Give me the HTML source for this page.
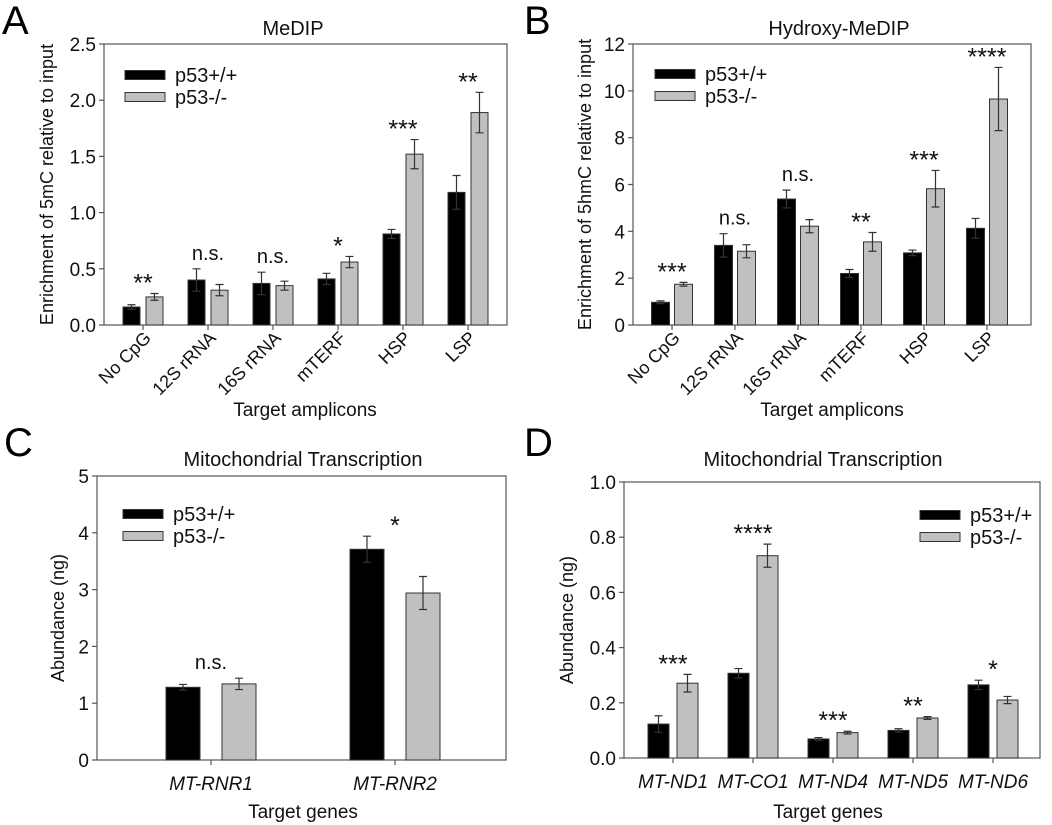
<!DOCTYPE html>
<html><head><meta charset="utf-8">
<style>
html,body{margin:0;padding:0;background:#fff;}
svg{display:block;font-family:"Liberation Sans",Arial,sans-serif;}
</style></head>
<body>
<svg id="fig" width="1052" height="825" viewBox="0 0 1052 825" xmlns="http://www.w3.org/2000/svg">
<rect width="1052" height="825" fill="#fff"/>
</svg>
<script>
// ---- Panel A data ----
const catsA = ["No CpG","12S rRNA","16S rRNA","mTERF","HSP","LSP"];
const wtA = [0.16,0.40,0.37,0.41,0.81,1.18];
const wtErrA = [0.02,0.10,0.10,0.05,0.04,0.15];
const koA = [0.25,0.31,0.35,0.56,1.52,1.89];
const koErrA = [0.03,0.05,0.04,0.05,0.13,0.18];
const sigA = ["**","n.s.","n.s.","*","***","**"];
const ticksA = ["0.0","0.5","1.0","1.5","2.0","2.5"];
// ---- Panel B data ----
const catsB = ["No CpG","12S rRNA","16S rRNA","mTERF","HSP","LSP"];
const wtB = [0.97,3.40,5.38,2.20,3.08,4.13];
const wtErrB = [0.06,0.50,0.38,0.17,0.12,0.42];
const koB = [1.74,3.15,4.22,3.55,5.82,9.65];
const koErrB = [0.08,0.28,0.28,0.40,0.78,1.35];
const sigB = ["***","n.s.","n.s.","**","***","****"];
const ticksB = ["0","2","4","6","8","10","12"];
// ---- Panel C data ----
const catsC = ["MT-RNR1","MT-RNR2"];
const wtC = [1.28,3.71];
const wtErrC = [0.05,0.23];
const koC = [1.34,2.94];
const koErrC = [0.10,0.29];
const sigC = ["n.s.","*"];
const ticksC = ["0","1","2","3","4","5"];
// ---- Panel D data ----
const catsD = ["MT-ND1","MT-CO1","MT-ND4","MT-ND5","MT-ND6"];
const wtD = [0.123,0.307,0.069,0.100,0.265];
const wtErrD = [0.030,0.017,0.005,0.006,0.017];
const koD = [0.271,0.733,0.092,0.145,0.210];
const koErrD = [0.032,0.042,0.005,0.005,0.013];
const sigD = ["***","****","***","**","*"];
const ticksD = ["0.0","0.2","0.4","0.6","0.8","1.0"];

const NS = "http://www.w3.org/2000/svg";
const svg = document.getElementById('fig');
function mk(tag, attrs, parent, text){
  const e = document.createElementNS(NS, tag);
  for (const k in attrs) e.setAttribute(k, attrs[k]);
  if (text !== undefined) e.textContent = text;
  (parent||svg).appendChild(e);
  return e;
}

function panel(o){
  const g = mk('g', {});
  
  
  const ymax = parseFloat(o.ticks[o.ticks.length-1]);
  const y = v => o.y1 - (v / ymax) * (o.y1 - o.y0);
  const cx = i => o.c0 + i * o.step;
  const L = mk('text', {x:o.lx, y:o.ly, 'font-size':40, fill:'#000'}, g, o.letter);
  
  
  const T = mk('text', {x:o.tx, y:o.ty, 'font-size':20, 'text-anchor':'middle', fill:'#111'}, g, o.title);
  
  
  const F = mk('rect', {x:o.x0, y:o.y0, width:o.x1-o.x0, height:o.y1-o.y0, fill:'none', stroke:'#555', 'stroke-width':1.2}, g);
  
  
  o.ticks.forEach(t => {
    const yy = y(parseFloat(t));
    const tl = mk('line', {x1:o.x0-5, x2:o.x0, y1:yy, y2:yy, stroke:'#555', 'stroke-width':1.2}, g);
    
    
    const tt = mk('text', {x:o.x0-8, y:yy+7, 'font-size':19, 'text-anchor':'end', fill:'#111'}, g, t);
    
    
  });
  const yt = mk('text', {x:0, y:0, 'font-size':18, 'text-anchor':'middle', fill:'#111',
    transform:`translate(${o.ytx},${(o.y0+o.y1)/2}) rotate(-90)`}, g, o.ytitle);
  
  
  const xt = mk('text', {x:o.xtx, y:o.xty, 'font-size':19, 'text-anchor':'middle', fill:'#111'}, g, o.xtitle);
  
  
  o.cats.forEach((c, i) => {
    const c0 = cx(i);
    const tk = mk('line', {x1:c0, x2:c0, y1:o.y1, y2:o.y1+5, stroke:'#555', 'stroke-width':1.2}, g);
    
    
    let lab;
    if (o.rot) {
      lab = mk('text', {x:0, y:0, 'font-size':18, 'text-anchor':'end', fill:'#111',
        transform:`translate(${c0+9},${o.y1+14}) rotate(-45)`}, g, c);
    } else {
      lab = mk('text', {x:c0, y:o.y1+30, 'font-size':19, 'text-anchor':'middle', 'font-style':'italic', fill:'#111'}, g, c);
    }
    
    
    const series = [
      {v:o.wt[i], e:o.wtErr[i], x:c0 - o.gap/2 - o.bw, fill:'#000', name:'bar-wt'},
      {v:o.ko[i], e:o.koErr[i], x:c0 + o.gap/2, fill:'#c0c0c0', name:'bar-ko'}
    ];
    let top = o.y1;
    series.forEach(s => {
      const b = mk('rect', {x:s.x, y:y(s.v), width:o.bw, height:o.y1-y(s.v), fill:s.fill, stroke:'#333', 'stroke-width':1}, g);
      
      
      const mx = s.x + o.bw/2, yt2 = y(s.v + s.e), yb = y(s.v - s.e), cap = 4;
      const eb = mk('path', {d:`M${mx},${yt2}V${yb}M${mx-cap},${yt2}H${mx+cap}M${mx-cap},${yb}H${mx+cap}`, stroke:'#333', 'stroke-width':1.2, fill:'none'}, g);
      
      
      top = Math.min(top, yt2);
    });
    const s = o.sig[i];
    const isNs = s === 'n.s.';
    const st = mk('text', {x:c0, y:isNs ? top-9 : top-2, 'font-size': isNs ? 20 : 25, 'text-anchor':'middle', fill:'#111'}, g, s);
    
    
  });
  const lg = mk('g', {}, g);
  
  
  [['p53+/+','#000'],['p53-/-','#c0c0c0']].forEach((it, k) => {
    const yy = o.legY + k*22;
    const r = mk('rect', {x:o.legX, y:yy-4.5, width:40, height:9, fill:it[1], stroke:'#333', 'stroke-width':1}, lg);
    
    
    const t = mk('text', {x:o.legX+50, y:yy+7, 'font-size':20, fill:'#111'}, lg, it[0]);
    
    
  });
}

panel({id:'a', letter:'A', lx:2, ly:34, title:'MeDIP', tx:293, ty:35,
  x0:104, x1:507, y0:44, y1:325, c0:143, step:65, bw:17, gap:6, rot:true,
  cats:catsA, wt:wtA, wtErr:wtErrA, ko:koA, koErr:koErrA, sig:sigA, ticks:ticksA,
  ytitle:'Enrichment of 5mC relative to input', ytx:53, xtitle:'Target amplicons', xtx:305, xty:416,
  legX:125, legY:75});
panel({id:'b', letter:'B', lx:524, ly:34, title:'Hydroxy-MeDIP', tx:839, ty:35,
  x0:633, x1:1031, y0:44, y1:325, c0:672, step:63, bw:18, gap:5, rot:true,
  cats:catsB, wt:wtB, wtErr:wtErrB, ko:koB, koErr:koErrB, sig:sigB, ticks:ticksB,
  ytitle:'Enrichment of 5hmC relative to input', ytx:591, xtitle:'Target amplicons', xtx:832, xty:416,
  legX:655, legY:74});
panel({id:'c', letter:'C', lx:4, ly:456, title:'Mitochondrial Transcription', tx:303, ty:466,
  x0:97, x1:506, y0:476, y1:760, c0:211, step:184, bw:34, gap:22, rot:false,
  cats:catsC, wt:wtC, wtErr:wtErrC, ko:koC, koErr:koErrC, sig:sigC, ticks:ticksC,
  ytitle:'Abundance (ng)', ytx:64, xtitle:'Target genes', xtx:303, xty:818,
  legX:123, legY:514});
panel({id:'d', letter:'D', lx:524, ly:456, title:'Mitochondrial Transcription', tx:823, ty:466,
  x0:624, x1:1040, y0:482, y1:758, c0:673, step:80, bw:21, gap:8, rot:false,
  cats:catsD, wt:wtD, wtErr:wtErrD, ko:koD, koErr:koErrD, sig:sigD, ticks:ticksD,
  ytitle:'Abundance (ng)', ytx:573, xtitle:'Target genes', xtx:828, xty:818,
  legX:920, legY:515});
</script>
</body></html>
